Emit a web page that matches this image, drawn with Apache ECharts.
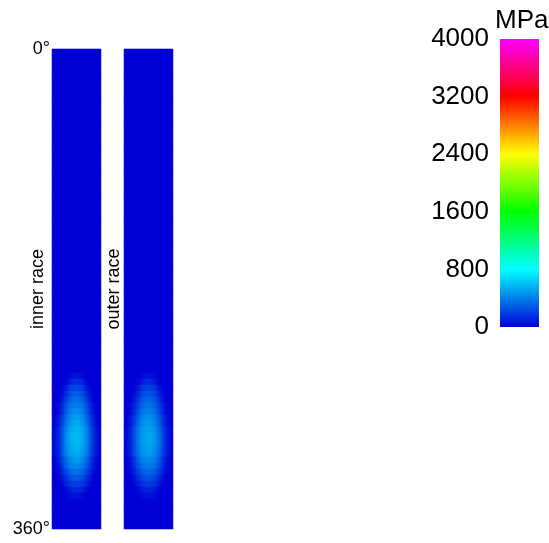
<!DOCTYPE html>
<html>
<head>
<meta charset="utf-8">
<script src="https://cdn.jsdelivr.net/npm/echarts@6/dist/echarts.min.js"></script>
<style>html,body{margin:0;padding:0;background:#fff;}#c{width:549px;height:543px;}</style>
</head>
<body>
<div id="c"></div>
<script>
// ---- data ----
const stripNames = ['inner race', 'outer race'];
const angleTicks = [0, 360];                           // degrees
const stressTicks = [0, 800, 1600, 2400, 3200, 4000];  // MPa
const unitLabel = 'MPa';
const nCols = 24;      // cells across each strip (symmetric about the centre line)
const nRows = 80;      // cells along 0..360 degrees (4.5 deg each)
const backgroundStress = 0;
const blobStartRow = 54;
// stress (MPa): rows 54..74, left half of each row
// (outer edge -> centre line); the field is symmetric about the strip centre
const innerBlobHalf = [
  [0,0,0,0,0,0,0,2,13,32,50,59],
  [0,0,0,0,0,0,12,38,75,113,137,149],
  [0,0,0,0,7,28,62,108,156,193,216,228],
  [0,0,0,6,27,60,111,168,222,261,285,297],
  [0,0,4,22,54,104,162,227,281,320,346,360],
  [0,0,21,49,94,152,217,283,332,373,394,410],
  [0,0,23,55,106,170,244,317,373,419,442,460],
  [0,15,46,92,153,224,301,372,428,469,495,510],
  [0,17,50,99,165,242,325,402,462,506,534,550],
  [12,41,81,139,215,296,377,447,499,539,563,580],
  [12,42,84,144,222,306,390,462,516,558,582,600],
  [12,42,84,144,222,306,390,462,516,558,582,600],
  [12,41,81,139,215,296,377,447,499,539,563,580],
  [11,39,77,132,204,281,358,424,473,512,534,550],
  [0,15,45,90,150,220,295,365,420,460,485,500],
  [0,13,40,79,132,194,260,321,370,405,427,440],
  [0,0,19,44,85,137,196,255,300,337,355,370],
  [0,0,3,17,44,84,131,183,226,258,278,290],
  [0,0,0,4,19,42,78,118,155,183,200,208],
  [0,0,0,0,0,7,23,48,78,104,121,129],
  [0,0,0,0,0,0,1,8,22,40,53,59]
];
const outerBlobHalf = [
  [0,0,0,0,0,0,0,2,12,29,45,53],
  [0,0,0,0,0,0,11,34,68,102,123,134],
  [0,0,0,0,6,25,56,97,140,174,194,205],
  [0,0,0,5,24,54,100,151,200,235,256,267],
  [0,0,3,20,49,94,146,204,253,288,311,324],
  [0,0,19,44,85,137,195,255,299,336,355,369],
  [0,0,21,50,95,153,220,285,336,377,398,414],
  [0,13,41,83,138,202,271,335,385,422,446,459],
  [0,15,45,89,149,218,293,362,416,455,481,495],
  [10,37,73,125,194,266,339,402,449,485,507,522],
  [11,38,76,130,200,275,351,416,464,502,524,540],
  [11,38,76,130,200,275,351,416,464,502,524,540],
  [10,37,73,125,194,266,339,402,449,485,507,522],
  [10,35,69,119,184,253,322,382,426,461,481,495],
  [0,13,40,81,135,198,266,329,378,414,437,450],
  [0,12,36,71,119,175,234,289,333,365,384,396],
  [0,0,17,40,77,123,176,230,270,303,320,333],
  [0,0,3,15,40,76,118,165,203,232,250,261],
  [0,0,0,4,17,38,70,106,140,165,180,187],
  [0,0,0,0,0,6,21,43,70,94,109,116],
  [0,0,0,0,0,0,1,7,20,36,48,53]
];
const colorStops = ['#0000d6', '#00ffff', '#00ff00', '#ffff00', '#ff0000', '#ff00ff']; // 0 -> 4000

// ---- build ----
function cells(half) {
  const out = [];
  for (let r = 0; r < nRows; r++) {
    const br = r - blobStartRow;
    const row = (br >= 0 && br < half.length) ? half[br].concat(half[br].slice().reverse()) : null;
    for (let c = 0; c < nCols; c++) {
      out.push([c, r, row ? row[c] : backgroundStress]);
    }
  }
  return out;
}
const colCats = Array.from({length: nCols}, (_, i) => String(i));
const rowCats = Array.from({length: nRows}, (_, i) => String(i));
const FONT = 'Liberation Sans, Arial, sans-serif';
const vmax = stressTicks[stressTicks.length - 1];
const barGradient = new echarts.graphic.LinearGradient(0, 1, 0, 0,
  colorStops.map((c, i) => ({offset: i / (colorStops.length - 1), color: c})));

const hiddenCat = {axisLine: {show: false}, axisTick: {show: false}, axisLabel: {show: false}, splitLine: {show: false}};
const chart = echarts.init(document.getElementById('c'), null, {renderer: 'canvas'});
chart.setOption({
  animation: false,
  backgroundColor: '#fff',
  title: {text: unitLabel, left: 495, top: 8, padding: 0,
    textStyle: {fontFamily: FONT, fontSize: 26, fontWeight: 'normal', color: '#000'}},
  grid: [
    {left: 52, top: 49, width: 49, height: 480, show: true, borderWidth: 0, backgroundColor: colorStops[0]},
    {left: 124, top: 49, width: 49, height: 480, show: true, borderWidth: 0, backgroundColor: colorStops[0]},
    {left: 500, top: 39, width: 39, height: 288, show: false}
  ],
  xAxis: [
    {gridIndex: 0, type: 'category', data: colCats, show: false},
    {gridIndex: 1, type: 'category', data: colCats, show: false},
    {gridIndex: 2, type: 'category', data: [unitLabel], show: false}
  ],
  yAxis: [
    Object.assign({gridIndex: 0, type: 'category', data: rowCats, inverse: true, position: 'left',
      name: stripNames[0], nameLocation: 'middle', nameRotate: 90, nameGap: 5,
      nameTextStyle: {fontFamily: FONT, fontSize: 18, color: '#000'}}, hiddenCat),
    Object.assign({gridIndex: 1, type: 'category', data: rowCats, inverse: true, position: 'left',
      name: stripNames[1], nameLocation: 'middle', nameRotate: 90, nameGap: 1,
      nameTextStyle: {fontFamily: FONT, fontSize: 18, color: '#000'}}, hiddenCat),
    {gridIndex: 0, type: 'value', min: angleTicks[0], max: angleTicks[1], interval: angleTicks[1] - angleTicks[0],
      inverse: true, position: 'left',
      axisLine: {show: false}, axisTick: {show: false}, splitLine: {show: false},
      axisLabel: {formatter: v => v + '°', margin: 2, fontFamily: FONT, fontSize: 18, color: '#000'}},
    {gridIndex: 2, type: 'value', min: stressTicks[0], max: vmax,
      interval: stressTicks[1] - stressTicks[0], position: 'left',
      axisLine: {show: false}, axisTick: {show: false}, splitLine: {show: false},
      axisLabel: {formatter: v => String(v), margin: 11, fontFamily: FONT, fontSize: 26, color: '#000'}}
  ],
  visualMap: {
    type: 'continuous', min: stressTicks[0], max: vmax, show: false,
    seriesIndex: [0, 1], inRange: {color: colorStops}
  },
  series: [
    {type: 'heatmap', xAxisIndex: 0, yAxisIndex: 0, data: cells(innerBlobHalf), itemStyle: {borderWidth: 0}, emphasis: {disabled: true}},
    {type: 'heatmap', xAxisIndex: 1, yAxisIndex: 1, data: cells(outerBlobHalf), itemStyle: {borderWidth: 0}, emphasis: {disabled: true}},
    {type: 'bar', xAxisIndex: 2, yAxisIndex: 3, data: [vmax], barWidth: '100%', silent: true,
      itemStyle: {color: barGradient}}
  ]
});
</script>
</body>
</html>
